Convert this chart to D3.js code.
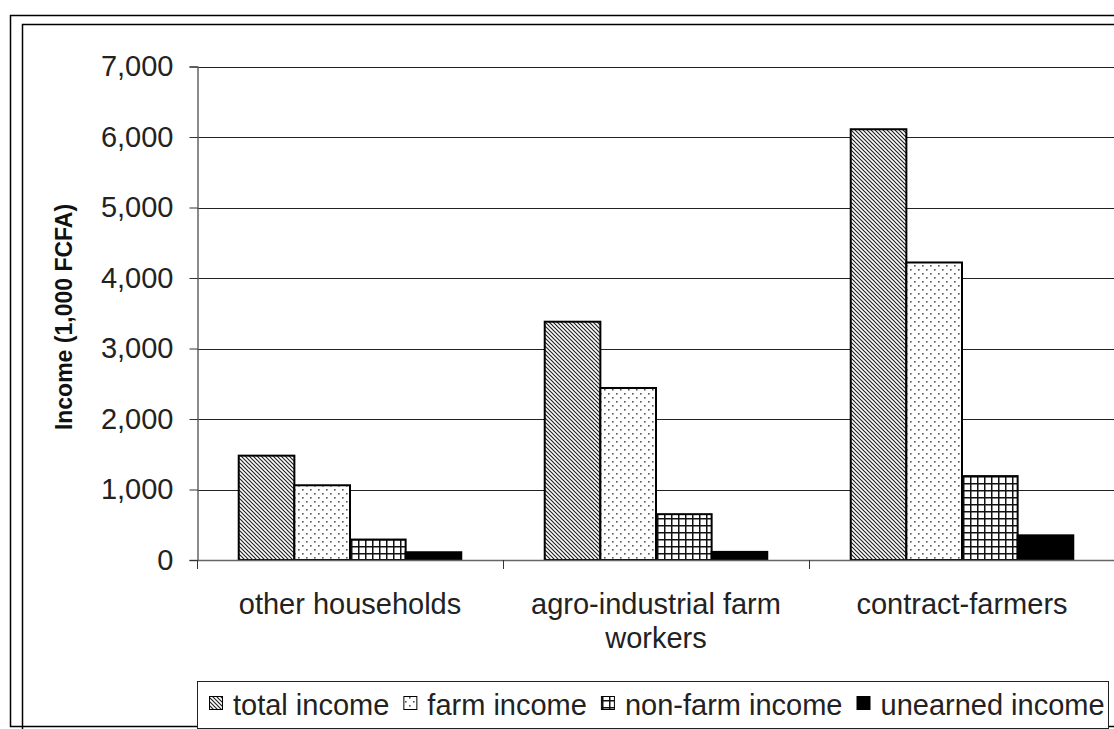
<!DOCTYPE html>
<html>
<head>
<meta charset="utf-8">
<script src="https://cdn.jsdelivr.net/npm/d3@7"></script>
<style>
  html, body { margin: 0; padding: 0; background: #fff; }
  svg { display: block; font-family: "Liberation Sans", Arial, sans-serif; }
</style>
</head>
<body>
<svg id="chart" width="1114" height="729"></svg>
<script>
// Household groups
const categories = ["other households", "agro-industrial farm workers", "contract-farmers"];
const categoryLines = [["other households"], ["agro-industrial farm", "workers"], ["contract-farmers"]];
// Income components (1,000 FCFA)
const seriesNames = ["total income", "farm income", "non-farm income", "unearned income"];
const totalIncome   = [1480, 3380, 6110];
const farmIncome    = [1060, 2440, 4220];
const nonFarmIncome = [290, 650, 1190];
const unearnedIncome = [110, 115, 350];
const yTicks = [0, 1000, 2000, 3000, 4000, 5000, 6000, 7000];

const seriesValues = [totalIncome, farmIncome, nonFarmIncome, unearnedIncome];
const fills = ["url(#pTotal)", "url(#pFarm)", "url(#pNonFarm)", "#000"];
const FONT = 29;

const svg = d3.select("#chart");
const defs = svg.append("defs");

// diagonal hatch
const p1 = defs.append("pattern").attr("id", "pTotal").attr("patternUnits", "userSpaceOnUse")
  .attr("width", 4).attr("height", 4);
p1.append("rect").attr("width", 4).attr("height", 4).attr("fill", "#fff");
p1.append("path").attr("d", "M-1,-1 L5,5 M-1,3 L1,5 M3,-1 L5,1")
  .attr("stroke", "#222").attr("stroke-width", 1.2);

// dotted
const p2 = defs.append("pattern").attr("id", "pFarm").attr("patternUnits", "userSpaceOnUse")
  .attr("width", 8).attr("height", 8);
p2.append("rect").attr("width", 8).attr("height", 8).attr("fill", "#fff");
p2.append("rect").attr("x", 1).attr("y", 1).attr("width", 1.6).attr("height", 1.6).attr("fill", "#555");
p2.append("rect").attr("x", 5).attr("y", 5).attr("width", 1.6).attr("height", 1.6).attr("fill", "#555");

// square grid
const p3 = defs.append("pattern").attr("id", "pNonFarm").attr("patternUnits", "userSpaceOnUse")
  .attr("width", 7).attr("height", 7);
p3.append("rect").attr("width", 7).attr("height", 7).attr("fill", "#fff");
p3.append("path").attr("d", "M0,0 H7 M0,0 V7").attr("stroke", "#111").attr("stroke-width", 3);

// chart frames
svg.append("rect").attr("x", 10.5).attr("y", 15.5).attr("width", 1200).attr("height", 711)
  .attr("fill", "none").attr("stroke", "#000").attr("stroke-width", 1.5);
svg.append("rect").attr("x", 22.5).attr("y", 24.5).attr("width", 1200).attr("height", 800)
  .attr("fill", "none").attr("stroke", "#000").attr("stroke-width", 1.5);

const plot = { left: 197, right: 1115, top: 66.5, bottom: 560 };

const x0 = d3.scaleBand().domain(categories).range([plot.left, plot.left + 306 * 3]).paddingInner(0).paddingOuter(0);
const x1 = d3.scaleBand().domain(seriesNames).range([0, x0.bandwidth()]).paddingInner(0).paddingOuter(0.75);
const y = d3.scaleLinear().domain([0, 7000]).range([plot.bottom, plot.top]);

// horizontal gridlines
svg.append("g").selectAll("line").data(yTicks.filter(d => d > 0)).join("line")
  .attr("x1", plot.left).attr("x2", plot.right)
  .attr("y1", d => Math.round(y(d)) + 0.5).attr("y2", d => Math.round(y(d)) + 0.5)
  .attr("stroke", "#222").attr("stroke-width", 1);

// y axis
const yAxis = d3.axisLeft(y).tickValues(yTicks).tickSize(8).tickPadding(16)
  .tickFormat(d3.format(","));
const gy = svg.append("g").attr("transform", `translate(${plot.left + 0.5},0)`).call(yAxis);
gy.select(".domain").attr("stroke", "#666").attr("stroke-width", 1.5);
gy.selectAll(".tick line").attr("stroke", "#333");
gy.selectAll(".tick text").attr("font-size", FONT).attr("fill", "#222")
  .attr("font-family", "Liberation Sans, Arial, sans-serif");

// bars
const groups = svg.append("g").selectAll("g").data(categories).join("g")
  .attr("transform", d => `translate(${x0(d)},0)`);
groups.selectAll("rect").data((d, i) => seriesNames.map((s, j) => ({ s, j, v: seriesValues[j][i] })))
  .join("rect")
  .attr("x", d => x1(d.s))
  .attr("width", x1.bandwidth())
  .attr("y", d => y(d.v))
  .attr("height", d => y(0) - y(d.v))
  .attr("fill", d => fills[d.j])
  .attr("stroke", "#000").attr("stroke-width", 2);

// x axis
const xAxis = d3.axisBottom(x0).tickSize(0).tickFormat("");
const gx = svg.append("g").attr("transform", `translate(0,${plot.bottom})`).call(xAxis);
gx.select(".domain").attr("stroke", "#666").attr("stroke-width", 1.5).attr("d", `M${plot.left},0.5H${plot.right}`);
// category separator ticks
const sepPos = [0, 1, 2, 3].map(i => plot.left + 306 * i);
svg.append("g").selectAll("line").data(sepPos).join("line")
  .attr("x1", d => d + 0.5).attr("x2", d => d + 0.5)
  .attr("y1", plot.bottom).attr("y2", plot.bottom + 9)
  .attr("stroke", "#333").attr("stroke-width", 1);

// category labels
const catText = svg.append("g").selectAll("text").data(categories).join("text")
  .attr("x", d => x0(d) + x0.bandwidth() / 2)
  .attr("y", 614)
  .attr("text-anchor", "middle").attr("font-size", FONT).attr("fill", "#222");
catText.each(function (d, i) {
  const t = d3.select(this);
  categoryLines[i].forEach((line, k) => {
    t.append("tspan").attr("x", x0(d) + x0.bandwidth() / 2).attr("dy", k === 0 ? 0 : 34).text(line);
  });
});

// y axis title
svg.append("text")
  .attr("transform", `translate(72,317) rotate(-90)`)
  .attr("text-anchor", "middle").attr("font-size", 23).attr("font-weight", "bold").attr("fill", "#111")
  .text("Income (1,000 FCFA)");

// legend
const legend = svg.append("g");
legend.append("rect").attr("x", 197.5).attr("y", 681.5).attr("width", 911).attr("height", 47)
  .attr("fill", "#fff").attr("stroke", "#222").attr("stroke-width", 1);
let lx = 209;
seriesNames.forEach((s, j) => {
  legend.append("rect").attr("x", lx + 0.5).attr("y", 696.5).attr("width", 13).attr("height", 13)
    .attr("fill", fills[j]).attr("stroke", "#000").attr("stroke-width", 1);
  const t = legend.append("text").attr("x", lx + 24).attr("y", 715)
    .attr("font-size", FONT).attr("fill", "#222").text(s);
  lx += 24 + t.node().getComputedTextLength() + 14;
});
</script>
</body>
</html>
